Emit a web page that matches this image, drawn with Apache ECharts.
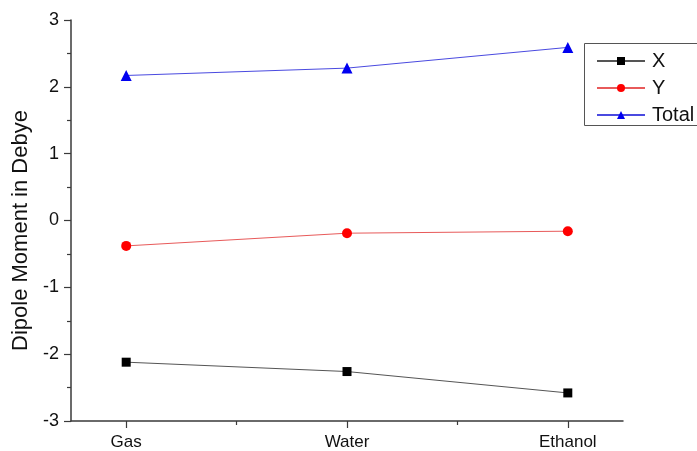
<!DOCTYPE html>
<html>
<head>
<meta charset="utf-8">
<script src="https://cdn.jsdelivr.net/npm/echarts@6/dist/echarts.min.js"></script>
<style>
html,body{margin:0;padding:0;background:#fff;}
#chart{width:697px;height:451px;}
</style>
</head>
<body>
<div id="chart"></div>
<script>
const categories = ['Gas', 'Water', 'Ethanol'];
const seriesNames = ['X', 'Y', 'Total'];
const xValues = [-2.12, -2.26, -2.58];
const yValues = [-0.38, -0.19, -0.16];
const totalValues = [2.17, 2.28, 2.59];
const yTicks = [-3, -2, -1, 0, 1, 2, 3];

const FONT = 'Liberation Sans, Arial, sans-serif';
const toPairs = vals => vals.map((v, i) => [i + 1, v]);
const catPositions = categories.map((c, i) => i + 1);
const minorPositions = categories.slice(1).map((c, i) => i + 1.5);

const chart = echarts.init(document.getElementById('chart'), null, {renderer: 'canvas'});
const axisColor = '#3a3a3a';
chart.setOption({
  animation: false,
  backgroundColor: '#fff',
  grid: {left: 71, right: 74, top: 20, bottom: 28, containLabel: false},
  graphic: [{
    type: 'rect', z: 0,
    shape: {x: 584.5, y: 43.5, width: 150, height: 82},
    style: {fill: 'none', stroke: '#555', lineWidth: 1}
  }],
  legend: {
    orient: 'vertical',
    left: 584, top: 43,
    data: seriesNames,
    itemWidth: 48, itemHeight: 10, itemGap: 5,
    padding: [7, 10, 1, 12],
    borderWidth: 0,
    textStyle: {fontFamily: FONT, fontSize: 20, color: '#111', lineHeight: 22, padding: [0, 0, 0, 2]}
  },
  xAxis: [{
    type: 'value', min: 0.75, max: 3.25,
    axisLine: {show: true, onZero: false, lineStyle: {color: axisColor, width: 1.5}},
    axisTick: {show: true, customValues: catPositions, length: 7, lineStyle: {color: axisColor, width: 1.2}},
    axisLabel: {customValues: catPositions, formatter: v => categories[Math.round(v) - 1], margin: 13,
      fontFamily: FONT, fontSize: 17, color: '#111'},
    splitLine: {show: false}
  }, {
    type: 'value', min: 0.75, max: 3.25, position: 'bottom',
    axisLine: {show: false, onZero: false},
    axisTick: {show: true, customValues: minorPositions, length: 4, lineStyle: {color: axisColor, width: 1.2}},
    axisLabel: {show: false},
    splitLine: {show: false}
  }],
  yAxis: {
    type: 'value', min: yTicks[0], max: yTicks[yTicks.length - 1], interval: 1,
    name: 'Dipole Moment in Debye', nameLocation: 'middle', nameGap: 38,
    nameTextStyle: {fontFamily: FONT, fontSize: 22, color: '#111', padding: [0, 20, 0, 0]},
    axisLine: {show: true, onZero: false, lineStyle: {color: axisColor, width: 1.5}},
    axisTick: {show: true, length: 7, lineStyle: {color: axisColor, width: 1.2}},
    minorTick: {show: true, splitNumber: 2, length: 4, lineStyle: {color: axisColor, width: 1.2}},
    axisLabel: {margin: 12, fontFamily: FONT, fontSize: 18, color: '#111'},
    splitLine: {show: false}, minorSplitLine: {show: false}
  },
  series: [{
    name: seriesNames[0], type: 'line', data: toPairs(xValues),
    symbol: 'rect', symbolSize: 9,
    itemStyle: {color: '#000'}, lineStyle: {color: '#555', width: 1}
  }, {
    name: seriesNames[1], type: 'line', data: toPairs(yValues),
    symbol: 'circle', symbolSize: 10,
    itemStyle: {color: '#f00'}, lineStyle: {color: '#e85a5a', width: 1}
  }, {
    name: seriesNames[2], type: 'line', data: toPairs(totalValues),
    symbol: 'triangle', symbolSize: 11,
    itemStyle: {color: '#0000f0'}, lineStyle: {color: '#4a4ae0', width: 1}
  }]
});
</script>
</body>
</html>
